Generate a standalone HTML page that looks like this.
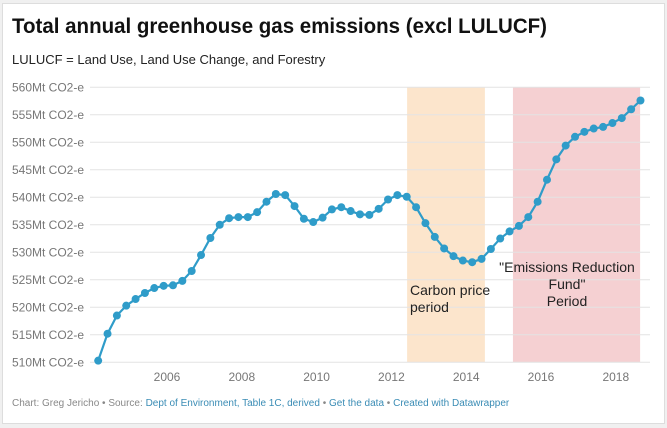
<!DOCTYPE html>
<html><head><meta charset="utf-8"><style>
body{margin:0;background:#f0f0f0;font-family:"Liberation Sans",sans-serif;}
#card{position:absolute;left:2px;top:3px;width:661px;height:419px;background:#fff;border:1px solid #ddd;}
svg{position:absolute;left:0;top:0;}
</style></head><body>
<div id="card"></div>
<svg id="chart" width="667" height="428">
<text x="12" y="33" font-size="21" font-weight="bold" fill="#111" textLength="535" lengthAdjust="spacingAndGlyphs">Total annual greenhouse gas emissions (excl LULUCF)</text>
<text x="12" y="64" font-size="13" fill="#222">LULUCF = Land Use, Land Use Change, and Forestry</text>
<text x="12" y="406" font-size="10" fill="#888">Chart: Greg Jericho • Source: <tspan fill="#3a8cb5">Dept of Environment, Table 1C, derived</tspan> • <tspan fill="#3a8cb5">Get the data</tspan> • <tspan fill="#3a8cb5">Created with Datawrapper</tspan></text>
<g id="plot"></g>
</svg>
<script>
const yTicks=[510,515,520,525,530,535,540,545,550,555,560];
const xTicks=[2006,2008,2010,2012,2014,2016,2018];
const startYear=2004.16, step=0.25;
const values=[510.3,515.2,518.5,520.3,521.5,522.6,523.5,523.9,524.0,524.8,526.6,529.5,532.6,535.0,536.2,536.4,536.4,537.3,539.2,540.6,540.4,538.4,536.1,535.5,536.3,
537.8,538.2,537.5,536.9,536.8,537.9,539.6,540.4,540.1,538.2,535.3,532.8,530.7,529.3,528.5,528.2,528.8,530.6,532.5,533.8,534.8,536.4,539.2,543.2,546.9,549.4,551.0,551.9,552.5,552.8,553.5,554.4,556.0,557.6];
const bands=[{name:'carbon-price-band',from:2012.42,to:2014.5,color:'#fce5cc'},{name:'erf-band',from:2015.25,to:2018.65,color:'#f5d0d2'}];
const NS='http://www.w3.org/2000/svg';
const g=document.getElementById('plot');
const X=t=>167+(t-2006)*37.4;
const Y=v=>87.3+(560-v)*5.5;
function mk(tag,attrs,parent){const e=document.createElementNS(NS,tag);for(const k in attrs)e.setAttribute(k,attrs[k]);(parent||g).appendChild(e);return e;}
bands.forEach(b=>{const r=mk('rect',{x:X(b.from),y:Y(560),width:X(b.to)-X(b.from),height:Y(510)-Y(560),fill:b.color});

});
yTicks.forEach(v=>{const l=mk('line',{x1:90,x2:650,y1:Y(v),y2:Y(v),stroke:'#e3e3e3','stroke-width':1});


const t=mk('text',{x:12,y:Y(v)+4,'font-size':12,fill:'#777'});t.textContent=v+'Mt CO2-e';

});
xTicks.forEach(y=>{const t=mk('text',{x:X(y),y:381,'font-size':12,fill:'#777','text-anchor':'middle'});t.textContent=y;

});
const pts=values.map((v,i)=>[X(startYear+i*step),Y(v)]);
const p=mk('polyline',{points:pts.map(q=>q.join(',')).join(' '),fill:'none',stroke:'#2f9cc9','stroke-width':2.2});


pts.forEach(q=>{const c=mk('circle',{cx:q[0],cy:q[1],r:4,fill:'#2f9cc9'});

});
function label(lines,x,y,anchor,name){const t=mk('text',{x:x,y:y,'font-size':14,fill:'#222','text-anchor':anchor});


lines.forEach((s,i)=>{const ts=mk('tspan',{x:x,dy:i?17:0},t);ts.textContent=s;});}
label(['Carbon price','period'],410,295,'start','carbon-price-label');
label(['"Emissions Reduction','Fund"','Period'],567,272,'middle','erf-label');
</script>
</body></html>
